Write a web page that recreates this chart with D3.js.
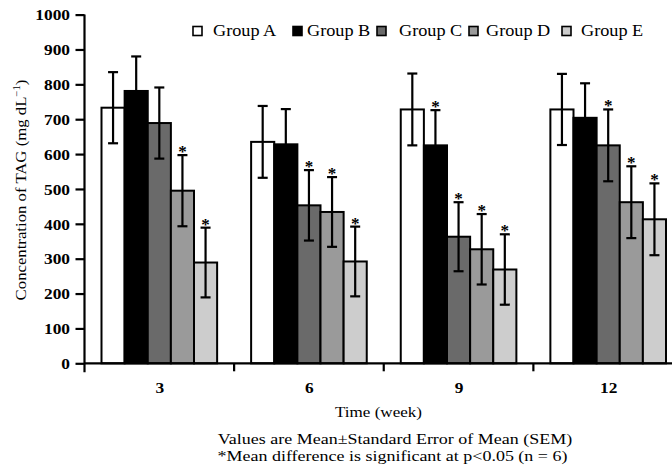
<!DOCTYPE html>
<html>
<head>
<meta charset="utf-8">
<script src="https://cdn.jsdelivr.net/npm/d3@7"></script>
<style>
  html, body { margin: 0; padding: 0; background: #fff; }
  svg { display: block; }
  svg text { font-family: "Liberation Serif", "DejaVu Serif", serif; fill: #000; }
</style>
</head>
<body>
<svg id="chart" width="672" height="474"></svg>
<script>
const weeks = ["3", "6", "9", "12"];
const groups = ["Group A", "Group B", "Group C", "Group D", "Group E"];
const groupColors = ["#ffffff", "#000000", "#6a6a6a", "#9a9a9a", "#cdcdcd"];
// mean values per group, ordered by week 3, 6, 9, 12
const groupA = [733, 635, 728, 728];
const groupB = [781, 628, 625, 704];
const groupC = [689, 453, 363, 625];
const groupD = [495, 434, 327, 462];
const groupE = [289, 292, 269, 413];
// standard errors
const semA = [102, 103, 103, 102];
const semB = [99, 101, 101, 99];
const semC = [102, 101, 99, 103];
const semD = [102, 100, 101, 103];
const semE = [100, 100, 101, 103];
// significance flags (asterisk)
const sigA = [false, false, false, false];
const sigB = [false, false, true, false];
const sigC = [false, true, true, true];
const sigD = [true, true, true, true];
const sigE = [true, true, true, true];
const yTicks = [0, 100, 200, 300, 400, 500, 600, 700, 800, 900, 1000];

const means = [groupA, groupB, groupC, groupD, groupE];
const sems = [semA, semB, semC, semD, semE];
const sigs = [sigA, sigB, sigC, sigD, sigE];

const FONT = "'Liberation Serif', 'DejaVu Serif', serif";
const svg = d3.select("#chart");
const y = d3.scaleLinear().domain([0, 1000]).range([363.3, 14.6]);
const x0 = d3.scaleBand().domain(weeks).range([84.5, 683]).paddingInner(0).paddingOuter(0);
const x1 = d3.scaleBand().domain(groups).range([17, x0.bandwidth() - 17]).padding(0);

// text placed at (x,y) and stretched horizontally by sx (the reference type is wide)
function addText(parent, x, y, str, size, sx, anchor, weight, rotate) {
  const g = parent.append("g")
    .attr("transform", `translate(${x},${y})${rotate ? " rotate(" + rotate + ")" : ""} scale(${sx},1)`);
  const t = g.append("text").attr("text-anchor", anchor || "start")
    .attr("font-size", size).attr("font-weight", weight || "normal")
    .style("font-family", FONT);
  if (str !== null) t.text(str);
  return t;
}

const data = [];
weeks.forEach((w, wi) => {
  groups.forEach((g, gi) => {
    data.push({ week: w, group: g, gi: gi, value: means[gi][wi], sem: sems[gi][wi], sig: sigs[gi][wi] });
  });
});

// bars
svg.append("g").selectAll("rect").data(data).join("rect")
  .attr("x", d => x0(d.week) + x1(d.group))
  .attr("y", d => y(d.value))
  .attr("width", x1.bandwidth())
  .attr("height", d => y(0) - y(d.value))
  .attr("fill", d => groupColors[d.gi])
  .attr("stroke", "#000")
  .attr("stroke-width", 2);

// error bars
const eb = svg.append("g").attr("stroke", "#000").attr("stroke-width", 2.2);
data.forEach(d => {
  const cx = x0(d.week) + x1(d.group) + x1.bandwidth() / 2;
  const top = y(d.value + d.sem), bot = y(d.value - d.sem);
  eb.append("line").attr("x1", cx).attr("x2", cx).attr("y1", top).attr("y2", bot);
  eb.append("line").attr("x1", cx - 5).attr("x2", cx + 5).attr("y1", top).attr("y2", top);
  eb.append("line").attr("x1", cx - 5).attr("x2", cx + 5).attr("y1", bot).attr("y2", bot);
});

// asterisks
svg.append("g").selectAll("text").data(data.filter(d => d.sig)).join("text")
  .attr("x", d => x0(d.week) + x1(d.group) + x1.bandwidth() / 2)
  .attr("y", d => y(d.value + d.sem) + 2)
  .attr("text-anchor", "middle")
  .attr("font-weight", "bold")
  .attr("font-size", 17)
  .style("font-family", FONT)
  .text("*");

// y axis
const yAxis = svg.append("g").attr("transform", "translate(84.5,0)")
  .call(d3.axisLeft(y).tickValues(yTicks).tickSize(9).tickPadding(5).tickFormat(d3.format("d")));
yAxis.attr("font-family", null).attr("font-size", null);
yAxis.select(".domain").attr("stroke-width", 2.2).attr("d", `M0,${y(1000)}V${y(0) + 9}`);
yAxis.selectAll(".tick line").attr("stroke-width", 2.2);
yAxis.selectAll(".tick text")
  .attr("x", 0).attr("dy", "0.34em")
  .attr("transform", "translate(-14.5,0) scale(1.12,1)")
  .attr("font-size", 15.5).attr("font-weight", "bold")
  .style("font-family", FONT).attr("fill", "#000");

// x axis
const bounds = weeks.map(w => x0(w)).slice(1);
const xAxisG = svg.append("g");
xAxisG.append("line").attr("x1", 84.5).attr("x2", 683).attr("y1", y(0)).attr("y2", y(0))
  .attr("stroke", "#000").attr("stroke-width", 2.2);
xAxisG.selectAll("line.tk").data(bounds).join("line").attr("class", "tk")
  .attr("x1", d => d).attr("x2", d => d).attr("y1", y(0)).attr("y2", y(0) + 8)
  .attr("stroke", "#000").attr("stroke-width", 2.2);
weeks.forEach(w => {
  addText(xAxisG, x0(w) + x0.bandwidth() / 2 + 0.5, 393, w, 15.5, 1.12, "middle", "bold");
});

// axis titles
addText(svg, 378.5, 417, "Time (week)", 15.5, 1.1, "middle");
const yt = addText(svg, 26, 190, null, 15.5, 1.08, "middle", "normal", -90);
yt.append("tspan").text("Concentration of TAG (mg dL");
yt.append("tspan").attr("dy", -6).attr("font-size", 10).text("\u22121");
yt.append("tspan").attr("dy", 6).text(")");

// footnotes
addText(svg, 395, 444, "Values are Mean\u00b1Standard Error of Mean (SEM)", 14.5, 1.24, "middle");
addText(svg, 392.5, 460.5, "*Mean difference is significant at p<0.05 (n = 6)", 14.5, 1.24, "middle");

// legend
const legSquareX = [193, 293, 377, 469, 562];
const legTextX = [213, 307, 399, 486, 581];
const leg = svg.append("g");
groups.forEach((g, i) => {
  leg.append("rect").attr("x", legSquareX[i]).attr("y", 26.5).attr("width", 9).attr("height", 9)
    .attr("fill", groupColors[i]).attr("stroke", "#000").attr("stroke-width", 1.6);
  addText(leg, legTextX[i], 36, g, 16, 1.14, "start");
});
</script>
</body>
</html>
